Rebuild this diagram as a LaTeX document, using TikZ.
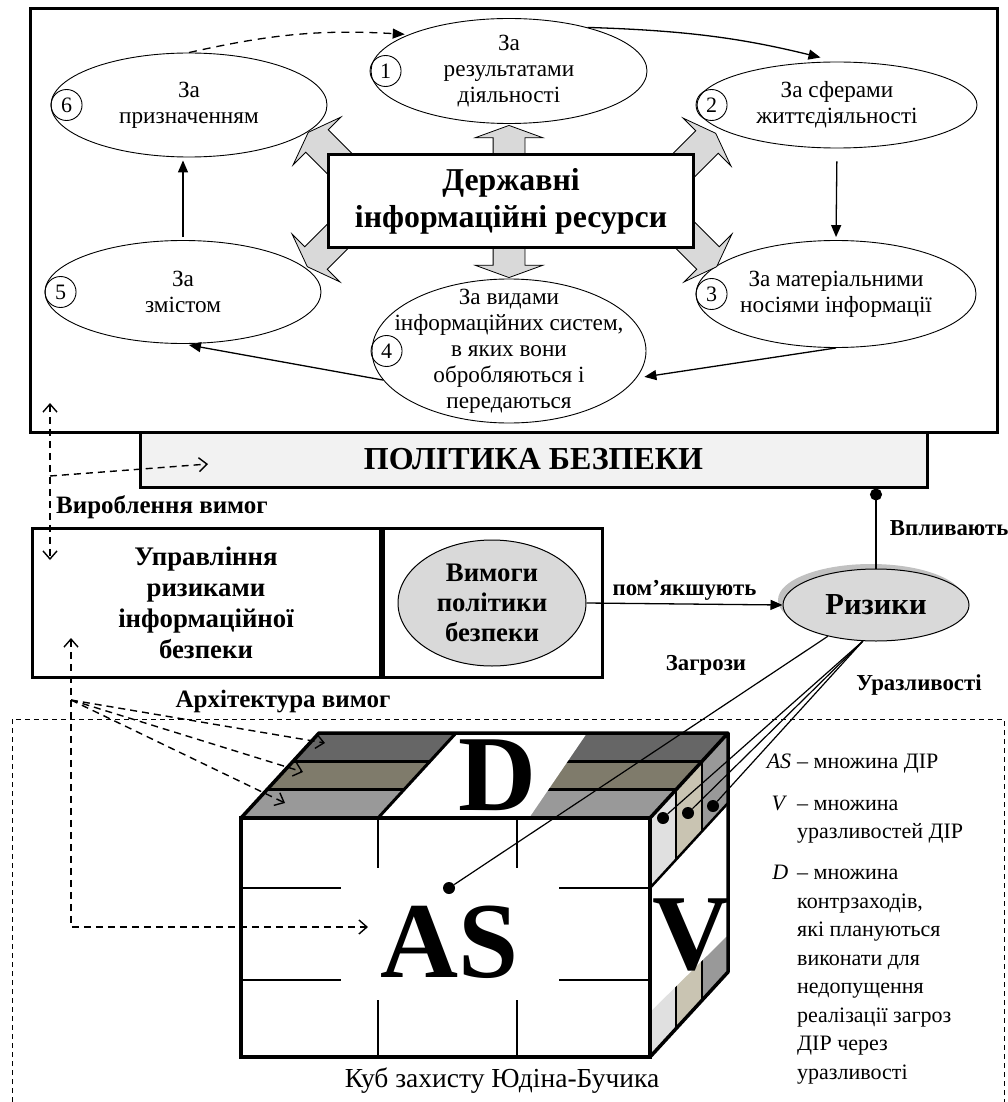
\documentclass[tikz,border=0pt]{standalone}
\usepackage{fontspec}
\setmainfont{Liberation Serif}
\usetikzlibrary{positioning,arrows.meta,shapes.geometric,shapes.arrows,shadows,calc}
\definecolor{csir}{HTML}{D9D9D9}
\definecolor{cpol}{HTML}{F2F2F2}
\definecolor{ctemn}{HTML}{666666}
\definecolor{chaki}{HTML}{7F7B6B}
\definecolor{csvit}{HTML}{999999}
\definecolor{cbil}{HTML}{E0E0E0}
\definecolor{cpis}{HTML}{C9C4B2}
\tikzset{
  klas/.style={ellipse, draw, line width=0.9pt, fill=white, inner sep=-20pt,
    minimum width=276pt, minimum height=105pt, align=center,
    font=\fontsize{23.2}{26}\selectfont},
  nom/.style={circle, draw, line width=0.9pt, inner sep=0pt, minimum size=31pt,
    font=\fontsize{22}{26}\selectfont},
  blok/.style={single arrow, draw, line width=0.8pt, fill=csir, inner xsep=0pt,
    inner ysep=15.5pt, single arrow head extend=18pt, single arrow tip angle=140,
    anchor=tip, minimum height=52pt},
  ramka/.style={draw, line width=3pt, align=center},
  strl/.style={-{Triangle[length=12pt,width=10pt]}, line width=1.3pt},
  shtr/.style={dash pattern=on 7pt off 5pt, line width=1.4pt},
  pidp/.style={font=\bfseries\fontsize{22.8}{26}\selectfont},
  krapka/.style={circle, fill, inner sep=0pt, minimum size=12pt},
  lit/.style={font=\bfseries\fontsize{108}{108}\selectfont, inner sep=0pt},
  legtxt/.style={font=\fontsize{22}{28.5}\selectfont, align=left, inner sep=0pt},
  >={Straight Barb[length=8pt,width=14pt]},
}
\begin{document}
\begin{tikzpicture}[x=1pt, y=-1pt]
  \useasboundingbox (0,0) rectangle (1008,1102);
  \draw[line width=3pt] (30,9) rectangle (997,432);

  \node[klas] (e1) at (509,71) {За\\результатами\\діяльності};
  \node[klas, minimum width=280pt, minimum height=86pt] (e2) at (837,105) {За сферами\\життєдіяльності};
  \node[klas, minimum width=280pt, minimum height=107pt] (e3) at (836,294) {За матеріальними\\носіями інформації};
  \node[klas, minimum width=274pt, minimum height=144pt] (e4) at (509,351) {За видами\\інформаційних систем,\\в яких вони\\обробляються і\\передаються};
  \node[klas, minimum height=103pt] (e5) at (183,292) {За\\змістом};
  \node[klas, minimum height=104pt] (e6) at (189,105) {За\\призначенням};
  \node[nom] (n1) at ([xshift=15pt]e1.west) {1};
  \node[nom] (n2) at ([xshift=15pt]e2.west) {2};
  \node[nom] (n3) at ([xshift=16pt]e3.west) {3};
  \node[nom] (n4) at ([xshift=15pt]e4.west) {4};
  \node[nom] (n5) at ([xshift=16pt]e5.west) {5};
  \node[nom] (n6) at ([xshift=16pt]e6.west) {6};

  \node[blok, rotate=90] (a1) at (509,125) {};
  \node[blok, rotate=45] (a2) at (716,133) {};
  \node[blok, rotate=-45] (a3) at (717,267) {};
  \node[blok, rotate=-90] (a4) at (509,278) {};
  \node[blok, rotate=225] (a5) at (307,267) {};
  \node[blok, rotate=135] (a6) at (308,132) {};
  \node[ramka, fill=white, minimum width=365pt, minimum height=93pt,
    font=\bfseries\fontsize{31.8}{37}\selectfont] (dir) at (511,201) {Державні\\інформаційні ресурси};

  \draw[strl, shorten >=17pt] (e1.29) to[bend left=6] (e2.north);
  \draw[strl, dash pattern=on 8pt off 6pt, shorten >=4pt] (e6.north) to[bend left=8] (e1.160);
  \draw[strl, shorten <=13pt, shorten >=3pt] (e2.south) -- (e3.north);
  \draw[strl, shorten >=8pt] (e3.south) -- (e4.-12);
  \draw[strl, shorten >=6pt] (e4.193) -- (e5.south);
  \draw[strl, shorten <=3pt, shorten >=3pt] (e5.north) -- (e5.north |- e6.south);

  \node[ramka, fill=cpol, minimum width=787pt, minimum height=55pt,
    font=\bfseries\fontsize{32}{36}\selectfont] (pol) at (533.5,459.5) {ПОЛІТИКА БЕЗПЕКИ};
  \node[ramka, minimum width=348pt, minimum height=149pt,
    font=\bfseries\fontsize{26.8}{31}\selectfont] (upr) at (206,602.5) {Управління\\ризиками\\інформаційної\\безпеки};
  \node[ramka, minimum width=219pt, minimum height=149pt, anchor=west] (vbox) at (upr.east) {};
  \node[ellipse, draw, line width=1pt, fill=csir, minimum width=188pt, minimum height=126pt,
    inner sep=-12pt, align=center, font=\bfseries\fontsize{26.8}{30}\selectfont] (vym) at (492,603) {Вимоги\\політики\\безпеки};
  \node[ellipse, draw, line width=1pt, fill=csir, minimum width=186pt, minimum height=72pt,
    inner sep=0pt, font=\bfseries\fontsize{30.5}{34}\selectfont,
    drop shadow={shadow xshift=-5pt, shadow yshift=5pt, fill=gray!60, opacity=0.8}] (riz) at (876,605) {Ризики};
  \draw[strl] (vym.east) -- node[above, pidp] (lpom) {пом’якшують} (riz.west);
  \draw[line width=1.3pt, -{Circle[length=12pt]}] (riz.north) -- (riz.north |- pol.south)
    node[midway, right=10pt, pidp] (lvpl) {Впливають};
  \node[pidp] (lzag) at (706,665) {Загрози};
  \node[pidp] (lur) at (919,685) {Уразливості};
  \node[pidp, font=\bfseries\fontsize{25}{28}\selectfont] (lvyr) at (162,507) {Вироблення вимог};
  \node[pidp, font=\bfseries\fontsize{25}{28}\selectfont] (larh) at (283,702) {Архітектура вимог};

  \draw[dash pattern=on 5pt off 4pt, line width=0.9pt] (12,1102) -- (12,719) -- (1004,719) -- (1004,1102);

  \fill[csvit] (241,818) -- (650,818) -- (676,789.7) -- (267,789.7) -- cycle;
  \fill[chaki] (267,789.7) -- (676,789.7) -- (702,761.3) -- (293,761.3) -- cycle;
  \fill[ctemn] (293,761.3) -- (702,761.3) -- (728,733) -- (319,733) -- cycle;
  \draw[line width=3pt] (267,789.7) -- (676,789.7) (293,761.3) -- (702,761.3);
  \fill[white] (378,818) -- (529,818) -- (587,733) -- (456,733) -- cycle;
  \draw[line width=3pt] (378,818) -- (456,733);
  \node[lit] (bD) at (497,775) {D};
  \fill[cbil] (650,818) -- (676,789.7) -- (676,1028.7) -- (650,1057) -- cycle;
  \fill[cpis] (676,789.7) -- (702,761.3) -- (702,1000.3) -- (676,1028.7) -- cycle;
  \fill[csvit] (702,761.3) -- (728,733) -- (728,972) -- (702,1000.3) -- cycle;
  \draw[line width=2.5pt] (676,789.7) -- (676,1028.7) (702,761.3) -- (702,1000.3);
  \fill[white] (650,888) -- (728,803) -- (728,935) -- (650,1012) -- cycle;
  \draw[line width=2.5pt] (650,888) -- (728,803);
  \node[lit] (bV) at (691,935) {V};
  \fill[white] (241,818) rectangle (650,1057);
  \draw[line width=2.5pt] (378,818) -- (378,1057) (517,818) -- (517,1057)
    (241,888) -- (650,888) (241,980) -- (650,980);
  \fill[white] (341,868) rectangle (559,1000);
  \node[lit] (bAS) at (450,942) {AS};
  \draw[line width=3.5pt] (241,818) rectangle (650,1057);
  \draw[line width=3.5pt, line join=round] (241,818) -- (319,733) -- (728,733) -- (728,972) -- (650,1057)
    (650,818) -- (728,733);
  \node[font=\fontsize{27.5}{30}\selectfont] (kub) at (502,1081) {Куб захисту Юдіна-Бучика};

  \coordinate (vt) at (50,403);
  \coordinate (vb) at (50,560);
  \coordinate (vm) at (50,476);
  \coordinate (vp) at (208,464);
  \draw[shtr, <->] (vt) -- (vb);
  \draw[shtr, ->] (vm) -- (vp);
  \coordinate (ut) at (71,638);
  \coordinate (uk) at (71,927);
  \coordinate (ua) at (368,927);
  \coordinate (uf) at (71,700);
  \coordinate (s1) at (325,743);
  \coordinate (s2) at (303,772);
  \coordinate (s3) at (285,803);
  \draw[shtr, <->] (ut) -- (uk) -- (ua);
  \foreach \s in {s1,s2,s3}
    \draw[shtr, ->] (uf) -- (\s);

  \node[krapka] (das) at (449,888) {};
  \node[krapka] (dv1) at (663,818) {};
  \node[krapka] (dv2) at (688,813) {};
  \node[krapka] (dv3) at (713,806) {};
  \draw[line width=1.2pt] (riz.213) -- (das);
  \foreach \d in {dv1,dv2,dv3}
    \draw[line width=1.2pt] (riz.250) -- (\d);

  \node[legtxt, anchor=base west] (tAS) at (797,768) {\llap{\textit{AS}\hspace{6pt}}– множина ДІР};
  \node[legtxt, anchor=north west] (tV) at (797,795.5) {\llap{\textit{V}\hspace{10pt}}– множина\\уразливостей ДІР};
  \node[legtxt, anchor=north west] (tD) at (797,865) {\llap{\textit{D}\hspace{9pt}}– множина\\контрзаходів,\\які плануються\\виконати для\\недопущення\\реалізації загроз\\ДІР через\\уразливості};
\end{tikzpicture}
\end{document}
